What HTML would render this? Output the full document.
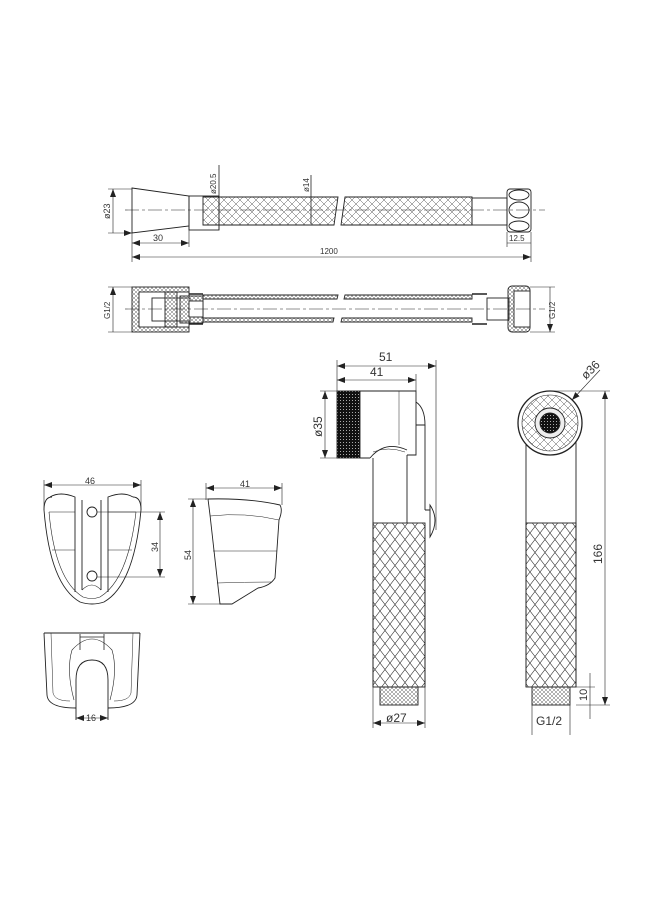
<!DOCTYPE html>
<html><head><meta charset="utf-8"><style>
html,body{margin:0;padding:0;background:#fff}
svg{display:block}
text{font-family:"Liberation Sans",sans-serif;fill:#333}
</style></head><body>
<svg width="660" height="900" viewBox="0 0 660 900" xmlns="http://www.w3.org/2000/svg">
<defs>
<pattern id="x" width="8" height="8" patternUnits="userSpaceOnUse">
<path d="M0 0L8 8M8 0L0 8" stroke="#555" stroke-width="0.5"/>
</pattern>
<pattern id="k" width="10" height="13" patternUnits="userSpaceOnUse">
<path d="M0 0L10 13M10 0L0 13" stroke="#333" stroke-width="0.6"/>
</pattern>
<pattern id="s" width="4" height="4" patternUnits="userSpaceOnUse">
<path d="M0 0L4 4M4 0L0 4" stroke="#666" stroke-width="0.5"/>
</pattern>
<pattern id="d" width="3" height="3" patternUnits="userSpaceOnUse">
<rect width="3" height="3" fill="#111"/><rect x="1" y="1" width="1" height="1" fill="#aaa"/>
</pattern>
<marker id="a" markerWidth="8" markerHeight="6" refX="8" refY="3" orient="auto-start-reverse" markerUnits="userSpaceOnUse"><path d="M0 0L8 3L0 6z" fill="#222"/></marker>
</defs>
<g fill="none" stroke="#222" stroke-width="0.9">
<!-- TOP HOSE -->
<path d="M132 188L189 196L189 226L132 233Z"/>
<rect x="189" y="196" width="30" height="34"/>
<path d="M203 197H338L334 225H203Z" fill="url(#x)"/>
<path d="M345 197H472V225H341Z" fill="url(#x)"/>
<rect x="472" y="198" width="35" height="27"/>
<rect x="507" y="189" width="24" height="43" rx="3"/>
<ellipse cx="519" cy="195" rx="10" ry="5"/><ellipse cx="519" cy="210" rx="10" ry="8"/><ellipse cx="519" cy="226" rx="10" ry="5"/>
<path d="M125 210H545" stroke-dasharray="14 3 3 3" stroke-width="0.6"/>
<path d="M113 189V233M108 189H132M108 233H132" stroke-width="0.6" marker-start="url(#a)" marker-end="url(#a)"/>
<path d="M132 243H189" stroke-width="0.6" marker-start="url(#a)" marker-end="url(#a)"/>
<path d="M132 257H531" stroke-width="0.6" marker-start="url(#a)" marker-end="url(#a)"/>
<path d="M132 233V262M189 226V247M531 232V262M507 232V247" stroke-width="0.6"/>
<path d="M507 243H531" stroke-width="0.6"/>
<path d="M219 165V230" stroke-width="0.8"/>
<path d="M311 175V224" stroke-width="0.8"/>
<!-- SECOND HOSE -->
<rect x="132" y="287" width="57" height="45" fill="url(#s)"/>
<rect x="139" y="292" width="50" height="35" fill="#fff"/>
<rect x="152" y="298" width="38" height="23" fill="#fff"/>
<rect x="165" y="292" width="12" height="35" fill="url(#s)"/>
<rect x="180" y="296" width="23" height="27" fill="url(#s)"/>
<rect x="189" y="301" width="14" height="16" fill="#fff"/>
<path d="M203 295H338L337 299H203ZM203 318H334L333 322H203Z" fill="url(#s)"/>
<path d="M345 295H472V299H344ZM342 318H472V322H341Z" fill="url(#s)"/>
<path d="M189 294H203M189 324H203M472 294H487M472 324H487" stroke-width="1.6"/>
<rect x="487" y="298" width="22" height="22"/>
<rect x="508" y="286" width="22" height="46" rx="4" fill="url(#s)"/>
<rect x="514" y="291" width="16" height="36" fill="#fff"/>
<path d="M125 309H545" stroke-dasharray="14 3 3 3" stroke-width="0.6"/>
<path d="M113 287V332M550 287V332" stroke-width="0.6" marker-start="url(#a)" marker-end="url(#a)"/>
<path d="M108 287H132M108 332H132M530 287H555M530 332H555" stroke-width="0.6"/>
<!-- SPRAYER SIDE -->
<path d="M337 366H436" stroke-width="0.6" marker-start="url(#a)" marker-end="url(#a)"/>
<path d="M337 380H416" stroke-width="0.6" marker-start="url(#a)" marker-end="url(#a)"/>
<path d="M337 360V391M416 374V391M436 360V530" stroke-width="0.6"/>
<rect x="337" y="391" width="23" height="67" fill="url(#d)"/>
<path d="M360 391H416V455H407M360 458H370"/>
<path d="M399 391V445" stroke-width="0.5"/>
<path d="M370 458Q385 440 407 450"/>
<path d="M373 452Q388 446 405 452" stroke-width="0.5"/>
<path d="M416 402Q425 408 425 425H416"/>
<path d="M373 458V687M407 455V523M425 425V510M425 535V687"/>
<rect x="373" y="523" width="52" height="164" fill="url(#k)"/>
<path d="M425 510H430M430 505Q440 520 430 537Z" fill="#fff"/>
<rect x="380" y="687" width="38" height="18" fill="url(#s)"/>
<path d="M325 391V458" stroke-width="0.6" marker-start="url(#a)" marker-end="url(#a)"/>
<path d="M320 391H337M320 458H337" stroke-width="0.6"/>
<path d="M373 723H425" stroke-width="0.6" marker-start="url(#a)" marker-end="url(#a)"/>
<path d="M373 687V728M425 687V728" stroke-width="0.6"/>
<!-- SPRAYER FRONT -->
<path d="M526 440V687M576 440V687"/>
<path d="M526 440Q550 470 576 440" stroke-width="0.6"/>
<circle cx="550" cy="423" r="32" fill="#fff" stroke-width="1.3"/>
<circle cx="550" cy="423" r="28" fill="url(#x)" stroke-width="0.6"/>
<circle cx="550" cy="423" r="15" fill="#eee"/>
<circle cx="550" cy="423" r="10" fill="url(#d)"/>
<rect x="526" y="523" width="50" height="164" fill="url(#k)"/>
<rect x="532" y="687" width="38" height="18" fill="url(#s)"/>
<path d="M572 400L600 370" stroke-width="0.6" marker-start="url(#a)"/>
<path d="M550 391H610M576 705H610M576 687H595" stroke-width="0.6"/>
<path d="M605 391V705" stroke-width="0.6" marker-start="url(#a)" marker-end="url(#a)"/>
<path d="M590 673V687M590 719V705M590 687V705" stroke-width="0.6"/>
<path d="M532 705V735M570 705V735" stroke-width="0.6"/>
<!-- HOLDER FRONT -->
<path d="M44 485H141" stroke-width="0.6" marker-start="url(#a)" marker-end="url(#a)"/>
<path d="M44 480V510M141 480V510" stroke-width="0.6"/>
<path d="M50 497Q60 491 75 497V500M133 497Q123 491 108 497V500"/>
<path d="M44 510Q44 497 52 497M141 510Q141 497 133 497"/>
<path d="M44 510Q50 585 80 602Q92 606 104 602Q134 585 141 510"/>
<path d="M49 512Q55 580 83 597Q92 600 100 597Q128 580 136 512" stroke-width="0.6"/>
<path d="M75 500V592M82 500V590M101 500V590M108 500V592"/>
<path d="M82 590Q92 580 101 590" stroke-width="0.6"/>
<path d="M49 512H75M108 512H136M52 550H75M108 550H132" stroke-width="0.5"/>
<circle cx="92" cy="512" r="5"/><circle cx="92" cy="576" r="5"/>
<path d="M97 512H165M97 577H165" stroke-width="0.6"/>
<path d="M160 512V577" stroke-width="0.6" marker-start="url(#a)" marker-end="url(#a)"/>
<!-- HOLDER SIDE -->
<path d="M206 488H282" stroke-width="0.6" marker-start="url(#a)" marker-end="url(#a)"/>
<path d="M206 483V500M282 483V505" stroke-width="0.6"/>
<path d="M193 499V604" stroke-width="0.6" marker-start="url(#a)" marker-end="url(#a)"/>
<path d="M188 499H208M188 604H222" stroke-width="0.6"/>
<path d="M208 499Q250 498 280 505Q283 510 279 520L275 578Q270 586 258 588Q245 596 232 604H220L210 515Z"/>
<path d="M210 516Q245 512 279 520M213 551H277M217 583Q245 582 272 582" stroke-width="0.5"/>
<!-- HOLDER BOTTOM -->
<path d="M44 633H140M44 633L47 695Q48 708 76 708M140 633L137 695Q136 708 108 708"/>
<path d="M51 633L53 693Q55 701 70 701M133 633L131 693Q129 701 114 701" stroke-width="0.5"/>
<path d="M80 634V650M104 634V650M80 637H104" stroke-width="0.8"/>
<path d="M76 720V680Q76 660 92 660Q108 660 108 680V720"/>
<path d="M72 650Q92 628 112 650Q118 670 110 700M72 650Q66 670 74 700" stroke-width="0.6"/>
<path d="M76 718H108" stroke-width="0.6" marker-start="url(#a)" marker-end="url(#a)"/>
</g>
<g font-size="9">
<text transform="translate(110 219) rotate(-90)">ø23</text>
<text x="153" y="241">30</text>
<text x="320" y="254" font-size="8">1200</text>
<text x="509" y="241" font-size="8">12.5</text>
<text transform="translate(216 194) rotate(-90)" font-size="8">ø20.5</text>
<text transform="translate(309 192) rotate(-90)" font-size="8">ø14</text>
<text transform="translate(110 319) rotate(-90)" font-size="8">G1/2</text>
<text transform="translate(555 319) rotate(-90)" font-size="8">G1/2</text>
<text x="379" y="361" font-size="12">51</text>
<text x="370" y="376" font-size="12">41</text>
<text transform="translate(322 437) rotate(-90)" font-size="12">ø35</text>
<text x="386" y="722" font-size="12">ø27</text>
<text transform="translate(586 380) rotate(-45)" font-size="12">ø36</text>
<text transform="translate(602 564) rotate(-90)" font-size="12">166</text>
<text transform="translate(587 701) rotate(-90)" font-size="11">10</text>
<text x="536" y="725" font-size="12">G1/2</text>
<text x="85" y="484">46</text>
<text x="240" y="487">41</text>
<text transform="translate(191 560) rotate(-90)">54</text>
<text transform="translate(158 552) rotate(-90)">34</text>
<text x="86" y="721">16</text>
</g>
</svg>
</body></html>
